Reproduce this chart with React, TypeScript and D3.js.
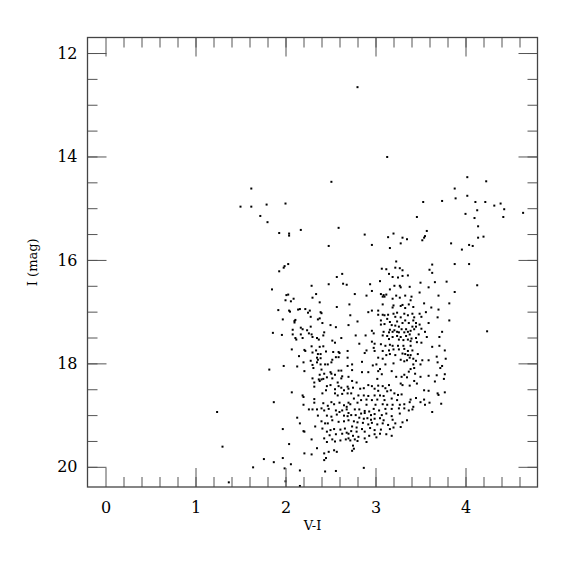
import React, { useEffect, useRef } from 'react';
import * as d3 from 'd3';

const W = 575;
const H = 575;
const left = 87.5;
const right = 537.5;
const top = 37.5;
const bottom = 487;

// [V-I, I] pairs
const brightStars: [number, number][] = [
  [2.80,12.66],[3.13,14.01],[2.51,14.49],[1.62,14.62],[1.50,14.97],[1.62,14.97],[1.79,14.93],[2.00,14.91],[1.72,15.15],[1.80,15.27],
  [1.93,15.48],[2.04,15.49],[2.04,15.53],[2.17,15.42],[2.59,15.38],[2.48,15.73],[2.88,15.51],[2.96,15.71],[3.14,15.56],[3.20,15.49],
  [3.16,15.77],[3.30,15.57],[3.35,15.60],[3.28,15.68],[3.46,15.17],[3.53,14.88],[3.57,15.44],[3.55,15.54],[3.54,15.57],[3.52,15.62],
  [3.74,14.86],[3.84,15.68],[3.88,14.62],[3.89,14.81],[3.96,15.80],[4.02,14.40],[4.02,14.76],[4.00,15.11],[4.11,14.88],[4.13,15.04],
  [4.10,15.19],[4.14,15.35],[4.14,15.57],[4.20,15.55],[4.04,15.71],[4.08,15.73],[4.23,14.48],[4.22,14.88],[4.32,14.95],[4.39,14.91],
  [4.43,15.02],[4.42,15.17],[4.64,15.09],[3.88,16.08],[4.04,16.08],[3.88,16.62],[4.13,16.49],[4.24,17.38],[1.93,16.22],[1.98,16.15],
  [1.99,16.12],[2.03,16.08],[2.63,16.27],[2.57,16.33],[3.07,16.17],[3.12,16.18],[3.23,16.03],[3.22,16.15],[3.27,16.16],[3.30,16.20],
  [3.15,16.27],[3.19,16.33],[3.25,16.34],[3.30,16.31],[3.36,16.30],[3.60,16.19],[3.63,16.25],[3.63,16.09],
];

const faintStars: [number, number][] = [
  [1.24,18.94],[1.30,19.61],[1.37,20.30],[2.16,20.37],[2.00,20.28],
];

const blueUpper: [number, number][] = [
  [1.85,16.57],[2.29,16.50],[2.48,16.47],[2.64,16.46],[2.68,16.48],[2.01,16.68],[2.03,16.67],[2.09,16.75],[2.00,16.78],[2.06,16.80],
  [2.30,16.73],[2.34,16.66],[2.38,16.82],[2.71,16.86],[2.57,16.91],[1.92,16.97],[2.04,16.98],[2.05,17.00],[2.14,16.96],[2.16,16.95],
  [2.22,16.95],[2.27,16.98],[2.25,17.02],[2.39,17.01],[2.40,17.03],[1.97,17.15],[2.11,17.16],[2.10,17.21],[2.10,17.18],[2.28,17.10],
  [2.36,17.15],[2.38,17.13],[2.41,17.22],[2.50,17.26],[2.56,17.30],[2.70,17.26],[1.86,17.41],[1.96,17.45],[2.08,17.35],[2.17,17.31],
  [2.19,17.34],[2.17,17.44],[2.24,17.36],[2.28,17.29],[2.26,17.42],[2.29,17.44],[2.43,17.40],[2.42,17.46],[2.08,17.44],[2.11,17.51],
  [2.12,17.54],[2.19,17.51],[2.30,17.49],[2.37,17.54],[2.35,17.51],[2.52,17.56],[2.55,17.60],[2.62,17.51],[2.07,17.73],[2.21,17.74],
  [2.22,17.76],[2.29,17.67],[2.34,17.75],[2.38,17.68],[2.42,17.67],[2.30,17.79],[2.35,17.89],[2.36,17.93],[2.39,17.90],[2.39,17.82],
  [2.36,17.82],[2.45,17.77],[2.15,17.86],[2.53,17.78],[2.59,17.78],[2.60,17.80],[2.59,17.88],[2.56,17.88],[2.69,17.76],[2.69,17.89],
  [2.52,17.93],[2.20,17.98],[2.28,17.95],[2.30,18.03],[2.35,17.98],[2.39,18.02],[2.44,18.02],[2.47,18.02],[2.51,17.98],[2.31,18.09],
  [2.40,18.12],[1.82,18.12],[1.98,18.05],[2.13,18.06],[2.21,18.15],[2.38,18.22],[2.43,18.20],[2.50,18.17],[2.51,18.20],[2.55,18.22],
  [2.62,18.14],[2.69,18.05],[2.59,18.14],[2.63,18.25],[2.30,18.29],[2.37,18.31],[2.40,18.31],[2.42,18.30],[2.46,18.27],[2.52,18.29],
  [2.62,18.29],[2.70,18.26],
];

const blueLower: [number, number][] = [
  [2.32,18.37],[2.38,18.34],[2.32,18.45],[2.46,18.44],[2.50,18.42],[2.58,18.37],[2.59,18.44],[2.62,18.47],[2.69,18.45],[2.45,18.52],
  [2.55,18.50],[2.65,18.52],[2.70,18.49],[2.07,18.56],[2.19,18.62],[2.20,18.65],[2.41,18.58],[2.55,18.58],[2.58,18.62],[2.63,18.59],
  [2.69,18.58],[2.32,18.69],[2.32,18.76],[2.20,18.80],[2.42,18.77],[2.51,18.75],[2.54,18.79],[2.47,18.82],[2.60,18.76],[2.65,18.81],
  [2.68,18.84],[2.70,18.76],[1.87,18.75],[2.26,18.89],[2.30,18.89],[2.35,18.89],[2.40,18.87],[2.43,18.91],[2.48,18.88],[2.56,18.91],
  [2.60,18.94],[2.63,18.91],[2.68,18.89],[2.70,18.96],[2.13,19.05],[2.36,19.01],[2.46,19.01],[2.51,19.03],[2.57,18.99],[2.65,19.01],
  [2.69,19.02],[2.16,19.16],[2.33,19.22],[2.40,19.12],[2.44,19.16],[2.47,19.16],[2.52,19.10],[2.59,19.13],[2.65,19.12],[2.70,19.10],
  [1.97,19.27],[2.20,19.31],[2.21,19.32],[2.41,19.26],[2.46,19.32],[2.50,19.29],[2.54,19.27],[2.61,19.28],[2.66,19.26],[2.49,19.39],
  [2.56,19.37],[2.63,19.36],[2.68,19.34],[2.70,19.36],[2.29,19.47],[2.43,19.45],[2.46,19.52],[2.52,19.47],[2.55,19.51],[2.61,19.49],
  [2.67,19.47],[2.70,19.45],[2.04,19.56],[2.21,19.74],[2.29,19.76],[2.35,19.64],[2.43,19.74],[2.48,19.71],[2.54,19.68],[2.57,19.71],
  [2.45,19.83],[2.43,19.87],[1.76,19.85],[1.87,19.91],[1.97,19.83],[2.06,19.95],[1.64,20.01],[2.16,20.07],[2.44,20.09],[2.56,20.08],
  [1.99,20.03],
];

const redUpper: [number, number][] = [
  [3.05,16.41],[2.94,16.47],[3.21,16.50],[3.27,16.50],[3.28,16.53],[3.38,16.52],[3.50,16.44],[3.59,16.53],[3.66,16.43],[3.79,16.42],
  [3.16,16.57],[2.96,16.60],[2.77,16.66],[2.90,16.69],[3.06,16.66],[3.09,16.68],[3.12,16.67],[3.08,16.71],[3.10,16.71],[3.23,16.69],
  [3.27,16.73],[3.19,16.75],[3.33,16.69],[3.40,16.71],[3.49,16.63],[3.70,16.69],[3.39,16.78],[3.08,16.86],[3.20,16.88],[3.19,16.92],
  [3.28,16.89],[3.30,16.87],[3.33,16.93],[3.37,16.86],[3.42,16.91],[3.54,16.84],[3.62,16.92],[3.70,16.96],[3.82,16.84],[2.92,17.01],
  [2.96,16.98],[3.03,16.98],[3.03,17.06],[3.08,17.06],[3.10,17.07],[3.14,17.06],[3.13,17.14],[3.20,17.04],[3.24,17.02],[3.22,17.10],
  [3.28,17.11],[3.32,17.04],[3.36,17.07],[3.41,17.04],[3.43,17.11],[3.49,17.04],[3.51,17.10],[3.56,17.01],[3.69,17.11],[2.72,17.07],
  [2.80,17.19],[3.06,17.17],[3.16,17.20],[3.24,17.19],[3.30,17.22],[3.33,17.17],[3.37,17.22],[3.42,17.17],[3.45,17.22],[3.59,17.22],
  [3.82,17.17],[3.06,17.25],[3.10,17.24],[3.18,17.26],[3.22,17.27],[3.26,17.29],[3.41,17.29],[3.45,17.29],[3.49,17.25],[3.51,17.33],
  [3.16,17.35],[3.21,17.36],[3.29,17.34],[3.34,17.34],[3.39,17.37],[3.43,17.34],[3.09,17.39],[3.15,17.40],[3.19,17.39],[3.24,17.39],
  [3.26,17.40],[3.32,17.40],[3.36,17.39],[2.96,17.37],[2.98,17.42],[3.55,17.39],[3.74,17.39],[2.78,17.46],[2.89,17.46],[3.08,17.46],
  [3.13,17.47],[3.19,17.49],[3.24,17.47],[3.28,17.49],[3.34,17.47],[3.38,17.44],[3.40,17.52],[3.45,17.51],[3.48,17.44],[3.57,17.49],
  [3.71,17.49],[3.15,17.53],[3.26,17.54],[3.31,17.55],[3.36,17.54],[3.39,17.57],[3.46,17.59],[3.51,17.60],[2.96,17.58],[2.99,17.62],
  [2.82,17.62],[3.06,17.63],[3.11,17.66],[3.16,17.64],[3.19,17.66],[3.25,17.66],[3.31,17.66],[3.39,17.66],[2.98,17.70],[2.90,17.75],
  [2.88,17.80],[2.99,17.76],[3.08,17.76],[3.15,17.75],[3.20,17.73],[3.26,17.73],[3.32,17.72],[3.36,17.76],[3.41,17.75],[3.63,17.68],
  [3.71,17.66],[3.77,17.75],[3.12,17.84],[3.16,17.82],[3.22,17.84],[3.30,17.81],[3.33,17.82],[3.36,17.84],[3.39,17.84],[3.47,17.82],
  [3.52,17.94],[3.59,17.94],[3.68,17.87],[3.78,17.91],[3.08,17.91],[3.03,17.89],[3.28,17.93],[3.32,17.96],[3.35,17.94],[3.38,17.89],
  [3.42,17.91],[3.45,17.95],[2.85,17.97],[2.74,18.02],[2.97,18.04],[3.01,18.02],[3.11,18.02],[3.20,18.00],[3.42,18.02],[3.43,18.09],
  [3.50,18.02],[3.69,17.98],[3.72,18.09],[3.74,18.05],[3.05,18.11],[3.39,18.11],[3.03,18.15],[3.18,18.15],[2.85,18.17],[2.92,18.17],
  [3.07,18.21],[3.32,18.22],[3.37,18.16],[3.44,18.20],[3.50,18.26],[3.59,18.24],[3.68,18.23],[3.77,18.21],[3.23,18.26],[3.29,18.26],
  [3.35,18.27],[2.74,18.13],[3.02,18.30],[3.76,18.30],
];

const redLower: [number, number][] = [
  [2.74,18.34],[2.79,18.37],[2.92,18.42],[2.96,18.44],[3.03,18.43],[3.08,18.44],[3.15,18.42],[3.28,18.39],[3.30,18.42],[3.38,18.43],
  [3.43,18.34],[3.46,18.39],[3.66,18.35],[2.75,18.47],[2.83,18.49],[2.87,18.48],[2.99,18.49],[3.03,18.53],[3.11,18.48],[3.13,18.54],
  [3.17,18.52],[2.73,18.58],[2.81,18.62],[2.87,18.62],[2.92,18.63],[2.99,18.62],[3.05,18.62],[3.09,18.63],[3.21,18.58],[3.25,18.61],
  [3.29,18.60],[3.54,18.52],[3.59,18.53],[3.69,18.58],[3.77,18.56],[3.70,18.61],[2.76,18.68],[2.84,18.71],[2.90,18.70],[2.96,18.71],
  [3.02,18.70],[3.10,18.71],[3.18,18.68],[3.24,18.71],[3.39,18.70],[3.45,18.67],[3.54,18.70],[3.60,18.76],[3.73,18.78],[2.72,18.79],
  [2.80,18.76],[2.90,18.80],[3.00,18.80],[3.08,18.79],[3.13,18.80],[3.19,18.80],[3.27,18.80],[3.32,18.79],[3.38,18.75],[3.50,18.75],
  [3.55,18.80],[3.42,18.84],[3.41,18.89],[3.37,18.91],[3.63,18.94],[2.77,18.89],[2.82,18.89],[2.88,18.92],[2.93,18.93],[2.98,18.88],
  [3.04,18.91],[3.11,18.88],[3.18,18.88],[3.26,18.87],[3.32,18.87],[2.73,19.00],[2.78,19.00],[2.84,18.97],[2.88,18.96],[2.95,19.00],
  [2.99,18.98],[3.07,19.00],[3.12,18.97],[3.18,19.02],[3.27,18.97],[3.35,19.10],[2.82,19.05],[2.87,19.07],[2.91,19.06],[2.95,19.09],
  [2.99,19.07],[3.05,19.06],[3.09,19.10],[3.19,19.09],[3.30,19.14],[2.76,19.12],[2.80,19.14],[2.86,19.15],[2.92,19.18],[2.96,19.15],
  [3.02,19.18],[3.08,19.16],[3.14,19.19],[3.22,19.16],[3.28,19.23],[2.74,19.22],[2.79,19.24],[2.85,19.27],[2.94,19.25],[2.99,19.29],
  [3.06,19.28],[3.16,19.27],[3.20,19.24],[2.73,19.31],[2.79,19.32],[2.88,19.32],[2.99,19.37],[3.05,19.36],[3.12,19.37],[3.18,19.40],
  [2.75,19.40],[2.81,19.42],[2.88,19.45],[2.93,19.40],[3.01,19.43],[2.72,19.49],[2.77,19.47],[2.80,19.50],[2.90,19.52],[2.75,19.59],
  [2.76,19.65],[2.74,19.69],[2.87,20.02],
];

const xMajorTicks = [0, 1, 2, 3, 4];
const yMajorTicks = [12, 14, 16, 18, 20];

export default function App() {
  const ref = useRef<SVGSVGElement>(null);

  useEffect(() => {
    const svg = d3.select(ref.current);
    svg.selectAll('*').remove();

    const x = d3.scaleLinear().domain([-0.2, 4.8]).range([left, right]);
    const y = d3.scaleLinear().domain([11.7, 20.39]).range([top, bottom]);

    const xMinor = d3.range(0.2, 4.7, 0.2);
    const yMinor = d3.range(12, 20.01, 0.5);

    const stars = [...brightStars, ...faintStars, ...blueUpper, ...blueLower, ...redUpper, ...redLower];

    svg.append('g')
      .selectAll('rect')
      .data(stars)
      .join('rect')
      .attr('x', d => x(d[0]) - 1)
      .attr('y', d => y(d[1]) - 1)
      .attr('width', 2)
      .attr('height', 2)
      .attr('fill', '#000');

    const style = (g: any) => {
      g.select('.domain').remove();
      g.selectAll('line').attr('stroke', '#555').attr('stroke-width', 1);
      g.selectAll('text')
        .attr('font-family', '"DejaVu Serif", serif')
        .attr('font-size', 16)
        .attr('fill', '#000');
    };
    const noLabel = () => '';

    // bottom
    svg.append('g').attr('transform', `translate(0,${bottom})`)
      .call(d3.axisBottom(x).tickValues(xMinor).tickSize(-10).tickFormat(noLabel)).call(style);
    svg.append('g').attr('transform', `translate(0,${bottom})`)
      .call(d3.axisBottom(x).tickValues(xMajorTicks).tickSize(-19).tickPadding(15).tickFormat(d3.format('d'))).call(style);
    // top
    svg.append('g').attr('transform', `translate(0,${top})`)
      .call(d3.axisTop(x).tickValues(xMinor).tickSize(-10).tickFormat(noLabel)).call(style);
    svg.append('g').attr('transform', `translate(0,${top})`)
      .call(d3.axisTop(x).tickValues(xMajorTicks).tickSize(-19).tickFormat(noLabel)).call(style);
    // left
    svg.append('g').attr('transform', `translate(${left},0)`)
      .call(d3.axisLeft(y).tickValues(yMinor).tickSize(-10).tickFormat(noLabel)).call(style);
    svg.append('g').attr('transform', `translate(${left},0)`)
      .call(d3.axisLeft(y).tickValues(yMajorTicks).tickSize(-19).tickPadding(10).tickFormat(d3.format('d'))).call(style);
    // right
    svg.append('g').attr('transform', `translate(${right},0)`)
      .call(d3.axisRight(y).tickValues(yMinor).tickSize(-10).tickFormat(noLabel)).call(style);
    svg.append('g').attr('transform', `translate(${right},0)`)
      .call(d3.axisRight(y).tickValues(yMajorTicks).tickSize(-19).tickFormat(noLabel)).call(style);

    svg.append('rect')
      .attr('x', left).attr('y', top)
      .attr('width', right - left).attr('height', bottom - top)
      .attr('fill', 'none').attr('stroke', '#444').attr('stroke-width', 1.3);

    svg.append('text')
      .attr('x', (left + right) / 2).attr('y', 530)
      .attr('text-anchor', 'middle')
      .attr('font-family', '"DejaVu Serif", serif').attr('font-size', 13)
      .text('V-I');

    svg.append('text')
      .attr('transform', `translate(37,${(top + bottom) / 2}) rotate(-90)`)
      .attr('text-anchor', 'middle')
      .attr('font-family', '"DejaVu Serif", serif').attr('font-size', 13)
      .text('I (mag)');
  }, []);

  return (
    <svg ref={ref} width={W} height={H}
      style={{ position: 'absolute', left: 0, top: 0, background: '#fff' }} />
  );
}
